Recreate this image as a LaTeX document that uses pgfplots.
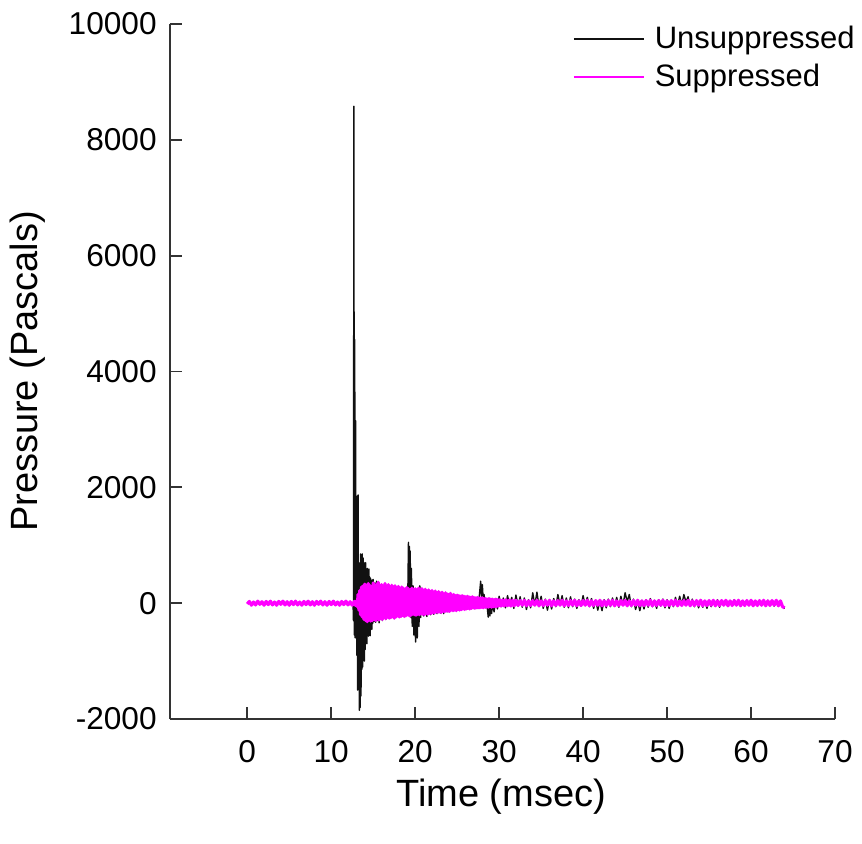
\documentclass[border=0pt]{standalone}
\usepackage{fontspec}
\setmainfont{Liberation Sans}
\usepackage{pgfplots}
\pgfplotsset{compat=1.18}
\definecolor{unsup}{HTML}{111111}
\definecolor{sup}{HTML}{FF00FF}
\begin{document}
\begin{tikzpicture}
\begin{axis}[
  name=ax,
  scale only axis,
  width=332.5pt, height=347.5pt,
  xmin=-9.2, xmax=70, ymin=-2000, ymax=10000,
  axis lines*=left,
  axis line style={line width=0.9pt, color=black!80},
  tick style={line width=0.9pt, color=black!80},
  tick align=inside,
  major tick length=6pt,
  xtick={0,10,...,70},
  ytick={-2000,0,...,10000},
  scaled y ticks=false,
  /pgf/number format/assume math mode=true,
  /pgf/number format/1000 sep={},
  /pgf/number format/fixed,
  ticklabel style={font=\fontsize{15.8}{18}\selectfont, inner sep=0pt},
  xticklabel style={anchor=center, yshift=-16.5pt},
  yticklabel style={anchor=east, xshift=-6.5pt},
  xlabel={Time (msec)},
  ylabel={Pressure (Pascals)},
  label style={font=\fontsize{19}{22}\selectfont},
  xlabel style={at={(axis description cs:0.498,-0.1122)}, anchor=center},
  ylabel style={at={(axis description cs:-0.2135,0.5)}, anchor=center},
  legend style={draw=none, fill=none, inner sep=0pt, outer sep=0pt,
    at={(rel axis cs:0.606,1.0)}, anchor=north west,
    font=\fontsize{15.5}{18}\selectfont, nodes={inner sep=1pt}, row sep=4.4pt},
  legend cell align=left,
  legend image code/.code={\draw[#1, line width=0.9pt] (0pt,0pt) -- (35pt,0pt);},
  /tikz/every odd column/.append style={column sep=4pt},
]
% unsuppressed
\addplot[unsup, line width=0.7pt, line join=round] coordinates {
(0,0)(4,10)(8,-10)(12.6,0)(12.65,-300)(12.7,8580)(12.75,-550)(12.8,4550)(12.85,-600)(12.9,3150)
(12.95,-400)(13.0,1200)(13.05,-900)(13.1,1850)(13.15,-1500)(13.2,1870)(13.25,-1200)(13.3,700)
(13.35,-1850)(13.4,500)(13.45,-1800)(13.5,850)(13.55,-1600)(13.6,800)(13.65,-1140)(13.7,850)
(13.75,-1100)(13.8,780)(13.85,-900)(13.9,700)(13.95,-1000)(14.0,650)(14.05,-800)(14.1,700)
(14.15,-600)(14.2,550)(14.25,-700)(14.3,600)(14.35,-550)(14.4,500)(14.45,-570)(14.5,590)
(14.55,-450)(14.6,450)(14.65,-560)(14.7,420)(14.75,-400)(14.8,380)(14.85,-450)(14.9,400)
(14.95,-350)(15.0,410)(15.1,-320)(15.2,350)(15.3,-330)(15.4,380)(15.5,-300)(15.6,330)
(15.7,-340)(15.8,300)(15.9,-280)(16.0,260)(16.1,-300)(16.2,240)(16.3,-260)(16.4,220)
(16.5,-280)(16.6,250)(16.7,-230)(16.8,200)(16.9,-250)(17.0,230)(17.2,-220)(17.4,210)
(17.6,-240)(17.8,200)(18.0,-200)(18.2,220)(18.4,-180)(18.6,190)(18.8,-210)(19.0,150)
(19.1,-100)(19.2,1050)(19.25,-200)(19.3,980)(19.35,100)(19.4,900)(19.5,-250)(19.55,600)
(19.65,-400)(19.75,300)(19.85,-550)(19.95,-200)(20.05,-670)(20.15,-150)(20.25,-600)(20.35,200)
(20.45,-400)(20.55,300)(20.65,-250)(20.8,250)(21.0,-220)(21.2,200)(21.4,-230)(21.6,180)
(21.8,-200)(22.0,170)(22.2,-190)(22.4,160)(22.6,-180)(22.8,150)(23.0,-170)(23.2,140)
(23.4,-180)(23.6,130)(23.8,-150)(24.0,120)(24.2,-140)(24.4,110)(24.6,-130)(24.8,100)
(25.0,-120)(25.2,90)(25.4,-110)(25.6,100)(25.8,-100)(26.0,80)(26.2,-100)(26.4,90)
(26.6,-90)(26.8,70)(27.0,-80)(27.2,80)(27.4,-90)(27.6,60)(27.8,380)(27.9,120)
(28.0,320)(28.1,60)(28.2,150)(28.4,-80)(28.5,50)(28.7,-240)(28.8,-60)(28.9,-220)
(29.0,-20)(29.1,-180)(29.2,0)(29.4,-150)(29.6,80)(29.8,-100)(30,120)(30.25,-60)
(30.5,90)(30.75,-80)(31,130)(31.25,-40)(31.5,100)(31.75,-90)(32,140)(32.25,-50)
(32.5,110)(32.75,-70)(33,90)(33.25,-110)(33.5,60)(33.75,-80)(34,180)(34.25,-40)
(34.5,190)(34.75,-60)(35,120)(35.25,-90)(35.5,70)(35.75,-120)(36,60)(36.25,-100)
(36.5,80)(36.75,-60)(37,150)(37.25,-40)(37.5,130)(37.75,-70)(38,90)(38.25,-80)
(38.5,110)(38.75,-60)(39,70)(39.25,-90)(39.5,60)(39.75,-50)(40,130)(40.25,-40)
(40.5,100)(40.75,-60)(41,80)(41.25,-90)(41.5,50)(41.75,-120)(42,40)(42.25,-130)
(42.5,60)(42.75,-80)(43,70)(43.25,-60)(43.5,90)(43.75,-50)(44,100)(44.25,-70)
(44.5,120)(44.75,-40)(45,180)(45.25,30)(45.5,150)(45.75,-60)(46,70)(46.25,-110)
(46.5,40)(46.75,-130)(47,50)(47.25,-100)(47.5,60)(47.75,-70)(48,80)(48.25,-60)
(48.5,50)(48.75,-90)(49,60)(49.25,-50)(49.5,70)(49.75,-80)(50,60)(50.25,-90)
(50.5,50)(50.75,-60)(51,100)(51.25,-40)(51.5,120)(51.75,-30)(52,150)(52.25,20)
(52.5,110)(52.75,-50)(53,70)(53.25,-60)(53.5,50)(53.75,-80)(54,60)(54.25,-70)
(54.5,40)(54.75,-90)(55,50)(55.25,-60)(55.5,40)(55.75,-50)(56,60)(56.25,-70)
(56.5,40)(56.75,-40)(57,50)(57.25,-50)(57.5,40)(57.75,-40)(58,60)(58.25,-40)
(58.5,40)(58.75,-50)(59,40)(59.25,-40)(59.5,50)(59.75,-40)(60,40)(60.25,-50)
(60.5,40)(60.75,-40)(61,50)(61.25,-40)(61.5,40)(61.75,-50)(62,50)(62.25,-40)
(62.5,40)(62.75,-50)(63,40)(63.25,-50)(63.5,30)(63.75,-60)(64,-90)
};
\addlegendentry{Unsuppressed}
% suppressed
\addplot[sup, line width=1.6pt, line join=round] coordinates {
(0,-15)(0.25,30)(0.5,-35)(0.75,20)(1,-30)(1.25,35)(1.5,-20)(1.75,25)(2,-35)(2.25,30)
(2.5,-25)(2.75,35)(3,-30)(3.25,20)(3.5,-35)(3.75,30)(4,-20)(4.25,35)(4.5,-30)(4.75,25)
(5,-35)(5.25,30)(5.5,-25)(5.75,35)(6,-30)(6.25,20)(6.5,-35)(6.75,30)(7,-25)(7.25,35)
(7.5,-30)(7.75,25)(8,-35)(8.25,30)(8.5,-20)(8.75,35)(9,-30)(9.25,25)(9.5,-35)(9.75,30)
(10,-25)(10.25,35)(10.5,-30)(10.75,20)(11,-35)(11.25,30)(11.5,-25)(11.75,35)(12,-30)(12.25,25)
(12.5,-35)(12.75,30)(12.9,-40)
(13.0,40)(13.1,-60)(13.2,150)(13.3,-120)(13.4,220)(13.5,-200)(13.6,280)(13.7,-240)(13.8,300)(13.9,-280)
(14.0,330)(14.1,-300)(14.2,290)(14.3,-320)(14.4,340)(14.5,-290)(14.6,310)(14.7,-310)(14.8,280)(14.9,-300)
(15.0,350)(15.1,-280)(15.2,300)(15.3,-300)(15.4,330)(15.5,-270)(15.6,360)(15.7,-290)(15.8,310)(15.9,-260)
(16.0,320)(16.1,-280)(16.2,290)(16.3,-250)(16.4,340)(16.5,-270)(16.6,300)(16.7,-240)(16.8,320)(16.9,-260)
(17.0,280)(17.1,-250)(17.2,310)(17.3,-230)(17.4,270)(17.5,-260)(17.6,300)(17.7,-240)(17.8,260)(17.9,-220)
(18.0,290)(18.1,-240)(18.2,250)(18.3,-230)(18.4,280)(18.5,-210)(18.6,260)(18.7,-230)(18.8,240)(18.9,-220)
(19.0,270)(19.1,-200)(19.2,250)(19.3,-220)(19.4,230)(19.5,-210)(19.6,260)(19.7,-190)(19.8,240)(19.9,-200)
(20.0,250)(20.1,-210)(20.2,220)(20.3,-190)(20.4,260)(20.5,-200)(20.6,230)(20.7,-180)(20.8,250)(20.9,-190)
(21.0,220)(21.1,-200)(21.2,240)(21.3,-170)(21.4,210)(21.5,-190)(21.6,230)(21.7,-170)(21.8,200)(21.9,-180)
(22.0,220)(22.1,-160)(22.2,190)(22.3,-170)(22.4,210)(22.5,-150)(22.6,180)(22.7,-160)(22.8,200)(22.9,-150)
(23.0,170)(23.1,-160)(23.2,190)(23.3,-140)(23.4,160)(23.5,-150)(23.6,180)(23.7,-130)(23.8,160)(23.9,-140)
(24.0,150)(24.1,-140)(24.2,170)(24.3,-120)(24.4,140)(24.5,-130)(24.6,150)(24.7,-120)(24.8,130)(24.9,-130)
(25.0,140)(25.1,-110)(25.2,130)(25.3,-120)(25.4,120)(25.5,-110)(25.6,130)(25.7,-100)(25.8,120)(25.9,-110)
(26.0,110)(26.1,-100)(26.2,120)(26.3,-90)(26.4,110)(26.5,-100)(26.6,100)(26.7,-90)(26.8,110)(26.9,-80)
(27.0,100)(27.1,-90)(27.2,90)(27.3,-80)(27.4,100)(27.5,-80)(27.6,90)(27.7,-80)(27.8,90)(27.9,-70)
(28.0,90)(28.1,-80)(28.2,80)(28.3,-70)(28.4,80)(28.5,-70)(28.6,70)(28.7,-70)(28.8,80)(28.9,-60)
(29.0,70)(29.1,-70)(29.2,70)(29.3,-60)(29.4,60)(29.5,-60)(29.6,70)(29.7,-60)(29.8,60)(29.9,-50)
(30.0,60)(30.2,-50)(30.4,55)(30.6,-50)(30.8,60)(31.0,-45)(31.2,55)(31.4,-50)(31.6,50)(31.8,-45)(32.0,50)
(32.25,-40)(32.5,45)(32.75,-35)(33,50)(33.25,-45)(33.5,40)
(33.75,-40)(34,45)(34.25,-35)(34.5,50)(34.75,-45)(35,40)
(35.25,-40)(35.5,45)(35.75,-35)(36,50)(36.25,-45)(36.5,40)
(36.75,-40)(37,45)(37.25,-35)(37.5,50)(37.75,-45)(38,40)
(38.25,-40)(38.5,45)(38.75,-35)(39,50)(39.25,-45)(39.5,40)
(39.75,-40)(40,45)(40.25,-35)(40.5,50)(40.75,-45)(41,40)
(41.25,-40)(41.5,45)(41.75,-35)(42,50)(42.25,-45)(42.5,40)
(42.75,-40)(43,45)(43.25,-35)(43.5,50)(43.75,-45)(44,40)
(44.25,-40)(44.5,45)(44.75,-35)(45,50)(45.25,-45)(45.5,40)
(45.75,-40)(46,45)(46.25,-35)(46.5,50)(46.75,-45)(47,40)
(47.25,-40)(47.5,45)(47.75,-35)(48,50)(48.25,-45)(48.5,40)
(48.75,-40)(49,45)(49.25,-35)(49.5,50)(49.75,-45)(50,40)
(50.25,-40)(50.5,45)(50.75,-35)(51,50)(51.25,-45)(51.5,40)
(51.75,-40)(52,45)(52.25,-35)(52.5,50)(52.75,-45)(53,40)
(53.25,-40)(53.5,45)(53.75,-35)(54,50)(54.25,-45)(54.5,40)
(54.75,-40)(55,45)(55.25,-35)(55.5,50)(55.75,-45)(56,40)
(56.25,-40)(56.5,45)(56.75,-35)(57,50)(57.25,-45)(57.5,40)
(57.75,-40)(58,45)(58.25,-35)(58.5,50)(58.75,-45)(59,40)
(59.25,-40)(59.5,45)(59.75,-35)(60,50)(60.25,-45)(60.5,40)
(60.75,-40)(61,45)(61.25,-35)(61.5,50)(61.75,-45)(62,40)
(62.25,-40)(62.5,45)(62.75,-35)(63,50)(63.25,-45)(63.5,40)
(63.75,-60)(64,-80)
};
\addlegendentry{Suppressed}
\end{axis}
\path ([shift={(-85pt,-62pt)}]ax.south west) rectangle ([shift={(346pt,359.5pt)}]ax.south west);
\end{tikzpicture}
\end{document}
